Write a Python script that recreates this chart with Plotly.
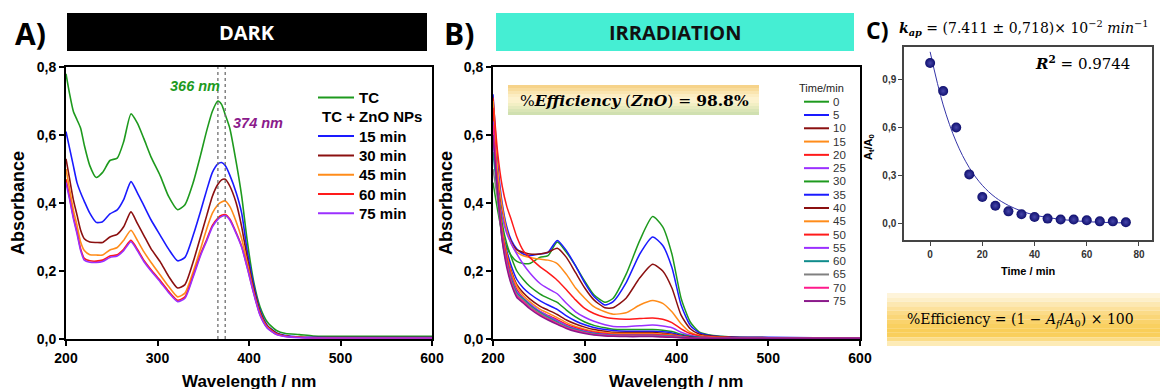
import plotly.graph_objects as go

W, H = 1160, 389
def fx(px): return px / W
def fy(py): return 1 - py / H

# ---------------- Panel A (DARK) ----------------
wl_a = [200, 204, 208, 212, 216, 220, 226, 233, 240, 248, 256, 263, 271, 278, 285, 293, 303, 312, 322, 330,
        339, 347, 354, 360, 366, 370, 374, 379, 386, 392, 398, 405, 412, 420, 430, 440, 455, 470, 500, 550, 600]
abs_tc = [0.78, 0.72, 0.67, 0.645, 0.62, 0.57, 0.51, 0.475, 0.49, 0.525, 0.532, 0.58, 0.662, 0.635, 0.59, 0.535, 0.48, 0.42, 0.38, 0.395,
          0.46, 0.54, 0.615, 0.67, 0.70, 0.69, 0.66, 0.62, 0.52, 0.42, 0.29, 0.17, 0.095, 0.05, 0.025, 0.016, 0.013, 0.009, 0.008, 0.008, 0.008]
abs_15 = [0.61, 0.56, 0.51, 0.46, 0.43, 0.405, 0.37, 0.343, 0.345, 0.368, 0.38, 0.41, 0.463, 0.43, 0.393, 0.35, 0.305, 0.265, 0.23, 0.24,
          0.305, 0.375, 0.44, 0.49, 0.515, 0.519, 0.51, 0.482, 0.43, 0.37, 0.26, 0.16, 0.085, 0.04, 0.018, 0.01, 0.006, 0.005, 0.004, 0.004, 0.004]
abs_30 = [0.53, 0.47, 0.41, 0.365, 0.32, 0.295, 0.285, 0.284, 0.284, 0.30, 0.308, 0.33, 0.374, 0.34, 0.305, 0.265, 0.227, 0.185, 0.15, 0.16,
          0.227, 0.30, 0.365, 0.42, 0.455, 0.468, 0.47, 0.45, 0.40, 0.33, 0.24, 0.15, 0.08, 0.038, 0.017, 0.009, 0.005, 0.004, 0.004, 0.004, 0.004]
abs_45 = [0.50, 0.44, 0.38, 0.335, 0.285, 0.26, 0.248, 0.247, 0.247, 0.262, 0.269, 0.29, 0.32, 0.29, 0.257, 0.225, 0.188, 0.155, 0.124, 0.135,
          0.198, 0.265, 0.326, 0.37, 0.395, 0.403, 0.406, 0.39, 0.345, 0.295, 0.225, 0.14, 0.075, 0.035, 0.015, 0.008, 0.005, 0.003, 0.003, 0.003, 0.003]
abs_60 = [0.47, 0.415, 0.36, 0.315, 0.265, 0.237, 0.23, 0.229, 0.232, 0.244, 0.248, 0.264, 0.29, 0.264, 0.232, 0.204, 0.172, 0.141, 0.114, 0.124,
          0.187, 0.249, 0.294, 0.334, 0.356, 0.364, 0.366, 0.353, 0.313, 0.272, 0.212, 0.137, 0.072, 0.033, 0.014, 0.008, 0.005, 0.003, 0.003, 0.003, 0.003]
abs_75 = [0.46, 0.41, 0.355, 0.31, 0.26, 0.232, 0.226, 0.225, 0.228, 0.24, 0.244, 0.26, 0.286, 0.26, 0.228, 0.20, 0.168, 0.137, 0.11, 0.12,
          0.183, 0.245, 0.29, 0.33, 0.352, 0.36, 0.363, 0.35, 0.31, 0.27, 0.21, 0.135, 0.07, 0.032, 0.013, 0.007, 0.004, 0.003, 0.003, 0.003, 0.003]
dark_names = ["TC", "15 min", "30 min", "45 min", "60 min", "75 min"]
dark_series = [abs_tc, abs_15, abs_30, abs_45, abs_60, abs_75]
dark_colors = ["#1E9A1E", "#1A1AFF", "#8B1010", "#FF8C1A", "#FF1A1A", "#9B30FF"]
dark_group_title = "TC + ZnO NPs"
peak_lines = [366, 374]

# ---------------- Panel B (IRRADIATION) ----------------
wl_b = [200, 205, 210, 215, 220, 226, 233, 240, 251, 260, 270, 280, 290, 300, 310, 322, 331, 345, 360, 374,
        385, 395, 405, 415, 425, 440, 460, 500, 600]
irr_times = ["0", "5", "10", "15", "20", "25", "30", "35", "40", "45", "50", "55", "60", "65", "70", "75"]
irr_colors = ["#1E9A1E", "#1A1AFF", "#8B1010", "#FF8C1A", "#FF1A1A", "#9B30FF", "#1E9A1E", "#1A1AFF",
              "#8B1010", "#FF8C1A", "#FF1A1A", "#9B30FF", "#108C8C", "#808080", "#FF1A8C", "#8B1A8B"]
irr_0 = [0.46, 0.38, 0.31, 0.27, 0.245, 0.228, 0.222, 0.222, 0.24, 0.245, 0.285, 0.255, 0.215, 0.17, 0.13, 0.108, 0.12, 0.19, 0.29, 0.36,
         0.33, 0.25, 0.12, 0.05, 0.02, 0.01, 0.006, 0.004, 0.003]
irr_5 = [0.72, 0.52, 0.40, 0.33, 0.29, 0.265, 0.25, 0.245, 0.25, 0.255, 0.29, 0.26, 0.215, 0.165, 0.125, 0.10, 0.11, 0.165, 0.25, 0.30,
         0.275, 0.21, 0.10, 0.04, 0.018, 0.009, 0.006, 0.005, 0.002]
irr_10 = [0.62, 0.48, 0.38, 0.32, 0.285, 0.262, 0.255, 0.25, 0.25, 0.255, 0.267, 0.24, 0.195, 0.15, 0.115, 0.092, 0.092, 0.12, 0.18, 0.22,
          0.20, 0.15, 0.07, 0.03, 0.014, 0.008, 0.005, 0.004, 0.002]
irr_15 = [0.70, 0.50, 0.39, 0.32, 0.28, 0.255, 0.245, 0.24, 0.235, 0.232, 0.222, 0.19, 0.15, 0.12, 0.095, 0.08, 0.073, 0.077, 0.10, 0.113,
          0.105, 0.08, 0.045, 0.02, 0.01, 0.006, 0.004, 0.003, 0.002]
irr_20 = [0.71, 0.55, 0.45, 0.39, 0.35, 0.30, 0.26, 0.24, 0.213, 0.195, 0.173, 0.145, 0.115, 0.09, 0.075, 0.064, 0.06, 0.058, 0.06, 0.062,
          0.058, 0.048, 0.03, 0.016, 0.009, 0.005, 0.004, 0.003, 0.002]
irr_25 = [0.62, 0.45, 0.36, 0.31, 0.28, 0.25, 0.22, 0.195, 0.164, 0.148, 0.133, 0.105, 0.08, 0.064, 0.052, 0.042, 0.037, 0.036, 0.039, 0.041,
          0.038, 0.033, 0.02, 0.011, 0.006, 0.004, 0.003, 0.002, 0.002]
irr_30 = [0.66, 0.45, 0.34, 0.28, 0.24, 0.20, 0.175, 0.155, 0.133, 0.12, 0.108, 0.085, 0.065, 0.05, 0.04, 0.033, 0.029, 0.028, 0.028, 0.028,
          0.026, 0.022, 0.014, 0.008, 0.005, 0.003, 0.002, 0.002, 0.002]
irr_35 = [0.60, 0.43, 0.32, 0.26, 0.215, 0.175, 0.15, 0.133, 0.113, 0.10, 0.087, 0.068, 0.053, 0.042, 0.034, 0.028, 0.025, 0.023, 0.023, 0.023,
          0.021, 0.018, 0.011, 0.006, 0.004, 0.003, 0.002, 0.002, 0.002]
irr_40 = [0.65, 0.44, 0.32, 0.25, 0.20, 0.16, 0.136, 0.118, 0.097, 0.085, 0.072, 0.056, 0.044, 0.035, 0.028, 0.023, 0.02, 0.019, 0.019, 0.019,
          0.017, 0.014, 0.009, 0.005, 0.003, 0.002, 0.002, 0.002, 0.002]
irr_45 = [0.70, 0.45, 0.32, 0.25, 0.195, 0.155, 0.128, 0.11, 0.088, 0.076, 0.063, 0.048, 0.037, 0.029, 0.023, 0.019, 0.017, 0.016, 0.016, 0.016,
          0.014, 0.012, 0.008, 0.004, 0.003, 0.002, 0.002, 0.002, 0.002]
irr_50 = [0.68, 0.44, 0.31, 0.24, 0.185, 0.145, 0.12, 0.102, 0.081, 0.069, 0.057, 0.043, 0.033, 0.026, 0.02, 0.016, 0.014, 0.013, 0.013, 0.013,
          0.012, 0.01, 0.007, 0.004, 0.003, 0.002, 0.002, 0.002, 0.002]
irr_55 = [0.64, 0.43, 0.30, 0.23, 0.18, 0.14, 0.12, 0.104, 0.081, 0.068, 0.054, 0.04, 0.03, 0.023, 0.018, 0.014, 0.012, 0.011, 0.011, 0.011,
          0.01, 0.009, 0.006, 0.004, 0.003, 0.002, 0.002, 0.002, 0.002]
irr_60 = [0.55, 0.42, 0.30, 0.225, 0.175, 0.135, 0.118, 0.10, 0.078, 0.064, 0.05, 0.037, 0.028, 0.021, 0.016, 0.012, 0.011, 0.01, 0.01, 0.01,
          0.009, 0.008, 0.005, 0.003, 0.002, 0.002, 0.002, 0.002, 0.002]
irr_65 = [0.50, 0.41, 0.29, 0.22, 0.17, 0.13, 0.114, 0.096, 0.075, 0.061, 0.047, 0.035, 0.026, 0.019, 0.014, 0.011, 0.01, 0.009, 0.009, 0.009,
          0.008, 0.007, 0.005, 0.003, 0.002, 0.002, 0.002, 0.002, 0.002]
irr_70 = [0.63, 0.44, 0.30, 0.22, 0.165, 0.127, 0.11, 0.092, 0.072, 0.058, 0.045, 0.033, 0.024, 0.018, 0.013, 0.01, 0.009, 0.008, 0.008, 0.008,
          0.007, 0.006, 0.004, 0.003, 0.002, 0.002, 0.002, 0.002, 0.002]
irr_75 = [0.60, 0.43, 0.29, 0.21, 0.16, 0.122, 0.106, 0.089, 0.069, 0.056, 0.043, 0.031, 0.022, 0.016, 0.012, 0.009, 0.008, 0.007, 0.007, 0.007,
          0.006, 0.005, 0.004, 0.003, 0.002, 0.002, 0.002, 0.002, 0.002]
irr_series = [irr_0, irr_5, irr_10, irr_15, irr_20, irr_25, irr_30, irr_35, irr_40, irr_45, irr_50, irr_55, irr_60, irr_65, irr_70, irr_75]

# ---------------- Panel C (kinetics) ----------------
kin_time = [0, 5, 10, 15, 20, 25, 30, 35, 40, 45, 50, 55, 60, 65, 70, 75]
kin_ratio = [1.0, 0.826, 0.60, 0.308, 0.167, 0.113, 0.078, 0.06, 0.043, 0.033, 0.027, 0.027, 0.023, 0.016, 0.016, 0.01]
fit_time = [0, 5, 10, 15, 20, 25, 30, 35, 40, 45, 50, 55, 60, 65, 70, 75]
fit_ratio = [1.07, 0.74, 0.51, 0.35, 0.24, 0.165, 0.115, 0.08, 0.055, 0.04, 0.028, 0.02, 0.014, 0.01, 0.008, 0.006]

abs_ticks = [0, 0.2, 0.4, 0.6, 0.8]
abs_ticktext = ["0,0", "0,2", "0,4", "0,6", "0,8"]
wl_ticks = [200, 300, 400, 500, 600]
c_xticks = [0, 20, 40, 60, 80]
c_yticks = [0, 0.3, 0.6, 0.9]
c_yticktext = ["0,0", "0,3", "0,6", "0,9"]

SANS = "Liberation Sans"
SERIF = "DejaVu Serif"

fig = go.Figure()

for name, ys, col in zip(dark_names, dark_series, dark_colors):
    fig.add_trace(go.Scatter(x=wl_a, y=ys, mode="lines", name=name, showlegend=False,
                             line=dict(color=col, width=1.6, shape="spline", smoothing=0.6), xaxis="x", yaxis="y"))

for t, ys, col in zip(irr_times, irr_series, irr_colors):
    fig.add_trace(go.Scatter(x=wl_b, y=ys, mode="lines", name=t, showlegend=False,
                             line=dict(color=col, width=1.5, shape="spline", smoothing=0.6), xaxis="x2", yaxis="y2"))

fig.add_trace(go.Scatter(x=fit_time, y=fit_ratio, mode="lines", line=dict(color="#3535A8", width=1, shape="spline"),
                         xaxis="x3", yaxis="y3", showlegend=False))
fig.add_trace(go.Scatter(x=kin_time, y=kin_ratio, mode="markers",
                         marker=dict(size=10, color="#0F0F6E", line=dict(width=0),
                                     gradient=dict(type="radial", color="#4646AA")),
                         xaxis="x3", yaxis="y3", showlegend=False))

for w in peak_lines:
    fig.add_shape(type="line", xref="x", yref="y", x0=w, x1=w, y0=0, y1=0.8,
                  line=dict(color="#707070", width=1.3, dash="dot"))

ax_common = dict(showline=True, linecolor="black", linewidth=2, mirror=True, ticks="outside", ticklen=5, tickwidth=2,
                 tickcolor="black", showgrid=False, zeroline=False,
                 tickfont=dict(family=SANS, size=14, color="black", weight="bold"))

# header boxes
fig.add_shape(type="rect", xref="paper", yref="paper", x0=fx(67), x1=fx(427), y0=fy(51), y1=fy(13),
              fillcolor="black", line=dict(width=0), layer="above")
fig.add_shape(type="rect", xref="paper", yref="paper", x0=fx(496), x1=fx(854), y0=fy(51), y1=fy(13),
              fillcolor="#45EED3", line=dict(width=0), layer="above")

# gradient box B
bands_b = ["#F6D38A", "#F8DC9C", "#FAE5B0", "#FCEDC2", "#FDF2CE", "#FBF2CC", "#F2EFC4", "#E6EABD", "#DAE5B6", "#D0E0B0"]
top, bot = 85, 115
step = (bot - top) / len(bands_b)
for k, c in enumerate(bands_b):
    fig.add_shape(type="rect", xref="paper", yref="paper", x0=fx(508), x1=fx(759),
                  y0=fy(top + (k + 1) * step), y1=fy(top + k * step), fillcolor=c, line=dict(width=0), layer="above")

bands_f = ["#FEF4DA", "#FDEFC8", "#FCE8B2", "#FCE19C", "#FBDB88", "#FAD678", "#FAD36C", "#F9D060", "#F9CE58", "#F9CF5C", "#FBDC86", "#FDEBB6"]
top, bot = 293, 346
step = (bot - top) / len(bands_f)
for k, c in enumerate(bands_f):
    fig.add_shape(type="rect", xref="paper", yref="paper", x0=fx(887), x1=fx(1160),
                  y0=fy(top + (k + 1) * step), y1=fy(top + k * step), fillcolor=c, line=dict(width=0), layer="above")

ann = []
def A(text, x, y, size, color="black", family=SANS, xanchor="center", angle=0, bold=False):
    t = f"<b>{text}</b>" if bold else text
    ann.append(dict(text=t, x=fx(x), y=fy(y), xref="paper", yref="paper", showarrow=False,
                    font=dict(family=family, size=size, color=color), xanchor=xanchor, yanchor="middle", textangle=angle))

# ---- manual legend, panel A ----
leg_a_x0, leg_a_x1, leg_a_text = 318, 354, 357
leg_a_y0, leg_a_step = 97.5, 19.3
rows = [(dark_names[0], dark_colors[0])] + [(dark_group_title, None)] + list(zip(dark_names[1:], dark_colors[1:]))
for r, (label, col) in enumerate(rows):
    yy = leg_a_y0 + r * leg_a_step
    if col is None:
        A(label, 320, yy, 15, xanchor="left", bold=True)
    else:
        fig.add_shape(type="line", xref="paper", yref="paper", x0=fx(leg_a_x0), x1=fx(leg_a_x1), y0=fy(yy), y1=fy(yy),
                      line=dict(color=col, width=2))
        A(label, leg_a_text, yy, 15, xanchor="left", bold=True)

# ---- manual legend, panel B ----
A("Time/min", 821, 88, 11, color="#222222")
leg_b_y0, leg_b_step = 101.7, 13.29
for r, (label, col) in enumerate(zip(irr_times, irr_colors)):
    yy = leg_b_y0 + r * leg_b_step
    fig.add_shape(type="line", xref="paper", yref="paper", x0=fx(804), x1=fx(829), y0=fy(yy), y1=fy(yy),
                  line=dict(color=col, width=2))
    A(label, 830.5, yy, 11.5, color="#333333", xanchor="left")

A("A)", 30, 33, 30, family="Open Sans", bold=True)
A("B)", 459, 33, 30, family="Open Sans", bold=True)
A("C)", 877, 30, 23, family="Open Sans", bold=True)
A("DARK", 247, 32, 20, color="white", family="Open Sans", bold=True)
A("IRRADIATION", 675, 32, 20, color="#111111", family="Open Sans", bold=True)
A("Absorbance", 18, 203, 18, angle=-90, bold=True)
A("Absorbance", 446, 203, 18, angle=-90, bold=True)
A("Wavelength / nm", 249, 381, 17, bold=True)
A("Wavelength / nm", 676, 381, 17, bold=True)
A("<i>366 nm</i>", 195, 86, 14.5, color="#1E9A1E", bold=True)
A("<i>374 nm</i>", 258, 123, 14.5, color="#8B1A8B", bold=True)
A("%<b><i>Efficiency</i></b> (<b><i>ZnO</i></b>) = <b>98.8%</b>", 634, 100, 15.5, family=SERIF)
A("<b><i>k</i></b><sub><b><i>ap</i></b></sub> = (7.411 ± 0,718)× 10<sup>−2</sup> <i>min</i><sup>−1</sup>", 897, 28, 14,
  family=SERIF, xanchor="left")
A("<b><i>R</i></b><sup><b>2</b></sup> = 0.9744", 1082, 63, 15, family=SERIF)
A("A<sub>t</sub>/A<sub>0</sub>", 869, 147, 11, angle=-90, bold=True)
A("Time / min", 1028, 271, 11, bold=True)
A("%Efficiency = (1 − <i>A</i><sub><i>f</i></sub>/<i>A</i><sub>0</sub>) × 100", 1020, 320, 14, family=SERIF)

fig.update_layout(
    width=W, height=H, margin=dict(l=0, r=0, t=0, b=0, autoexpand=False),
    paper_bgcolor="white", plot_bgcolor="rgba(0,0,0,0)", showlegend=False,
    xaxis=dict(domain=[fx(66), fx(432)], range=[200, 600], tickvals=wl_ticks, anchor="y", **ax_common),
    yaxis=dict(domain=[fy(339), fy(67)], range=[0, 0.8], tickvals=abs_ticks, ticktext=abs_ticktext, anchor="x", **ax_common),
    xaxis2=dict(domain=[fx(493), fx(860)], range=[200, 600], tickvals=wl_ticks, anchor="y2", **ax_common),
    yaxis2=dict(domain=[fy(339), fy(67)], range=[0, 0.8], tickvals=abs_ticks, ticktext=abs_ticktext, anchor="x2", **ax_common),
    xaxis3=dict(domain=[fx(904), fx(1152)], range=[-10, 85], tickvals=c_xticks, anchor="y3",
                showline=True, linecolor="#444444", linewidth=1.5, mirror=True, ticks="outside", ticklen=4, tickwidth=1,
                tickcolor="#444444", showgrid=False, zeroline=False,
                tickfont=dict(family=SANS, size=10, color="#333333", weight="bold")),
    yaxis3=dict(domain=[fy(240), fy(47)], range=[-0.1, 1.1], tickvals=c_yticks, ticktext=c_yticktext, anchor="x3",
                showline=True, linecolor="#444444", linewidth=1.5, mirror=True, ticks="outside", ticklen=4, tickwidth=1,
                tickcolor="#444444", showgrid=False, zeroline=False,
                tickfont=dict(family=SANS, size=10, color="#333333", weight="bold")),
    annotations=ann,
)

fig.write_html("out.html", config={"displayModeBar": False},
               post_script="document.body.style.margin='0px';document.body.style.padding='0px';")
